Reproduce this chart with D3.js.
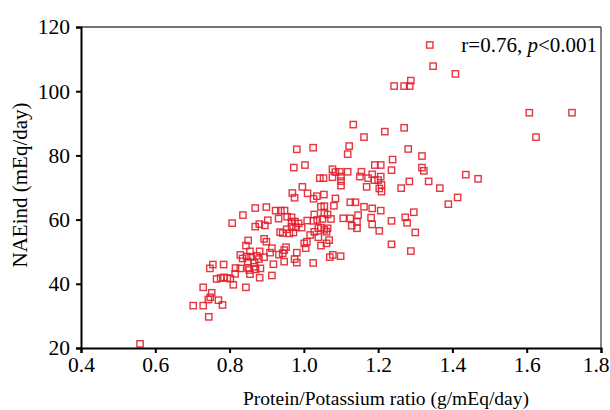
<!DOCTYPE html>
<html>
<head>
<meta charset="utf-8">
<script src="https://cdn.jsdelivr.net/npm/d3@7"></script>
<style>
  html, body { margin: 0; padding: 0; background: #fff; }
  svg { display: block; }
  text { font-family: "Liberation Serif", "Times New Roman", serif; }
</style>
</head>
<body>
<svg id="chart" width="610" height="410"></svg>
<script>
// Protein/Potassium ratio (g/mEq/day)
const ratio = [
  0.559, 0.702, 0.729, 0.744, 0.743, 0.748, 0.752, 0.729, 0.770, 0.781,
  0.747, 0.755, 0.784, 0.765, 0.776, 0.785, 0.794, 0.802, 0.810, 0.807,
  0.816, 0.815, 0.829, 0.844, 0.829, 0.835, 0.836, 0.844, 0.850, 0.855,
  0.846, 0.858, 0.849, 0.850, 0.855, 0.869, 0.869, 0.880, 0.895, 0.903,
  0.899, 0.873, 0.881, 0.867, 0.870, 0.866, 0.881, 0.879, 0.883, 0.853,
  0.893, 0.893, 0.899, 0.914, 0.909, 0.918, 0.914, 0.924, 0.938, 0.948,
  0.932, 0.955, 0.967, 0.967, 0.936, 0.943, 0.954, 0.961, 0.972, 0.952,
  0.947, 0.943, 0.933, 0.947, 0.975, 0.981, 0.981, 0.975, 0.969, 0.981,
  1.025, 0.973, 1.003, 0.996, 1.010, 1.026, 1.035, 1.043, 1.053, 1.054,
  1.085, 1.077, 1.085, 1.097, 1.118, 1.077, 1.100, 1.100, 1.100, 1.122,
  1.118, 1.133, 1.162, 1.218, 1.270, 1.155, 1.151, 1.184, 1.173, 1.191,
  1.207, 1.190, 1.200, 1.207, 1.209, 1.203, 1.209, 1.169, 1.239, 1.236,
  1.262, 1.281, 1.318, 1.318, 1.323, 1.284, 1.336, 1.366, 1.436, 1.469,
  1.414, 1.389, 1.296, 1.273, 1.278, 1.300, 1.288, 1.236, 1.236, 1.184,
  1.203, 1.181, 1.207, 1.184, 1.162, 1.125, 1.139, 1.106, 1.125, 1.146,
  1.143, 1.129, 1.143, 1.046, 1.055, 1.081, 1.055, 1.028, 1.064, 1.073,
  1.050, 1.026, 1.009, 1.036, 0.986, 0.994, 1.039, 1.046, 1.055, 1.064,
  1.061, 1.028, 1.017, 1.039, 1.068, 1.061, 1.046, 1.008, 1.001, 1.005,
  1.025, 1.070, 1.078, 1.099, 1.348, 1.408, 1.339, 1.288, 1.270, 1.285,
  1.243, 1.607, 1.722, 1.625, 0.967, 0.976, 0.979
];
// NAEind (mEq/day)
const naeind = [
  21.3, 33.2, 33.2, 29.7, 35.1, 35.8, 37.2, 38.9, 34.9, 33.4,
  44.8, 46.0, 46.0, 41.5, 41.8, 42.0, 41.8, 41.6, 39.7, 58.9,
  44.9, 43.1, 44.8, 38.9, 49.0, 47.9, 61.4, 51.9, 53.5, 50.1,
  48.5, 48.4, 46.9, 44.9, 43.0, 63.6, 57.8, 58.6, 58.2, 59.8,
  63.9, 48.7, 50.1, 46.6, 44.5, 45.3, 41.9, 47.7, 44.8, 44.3,
  48.3, 54.0, 53.1, 51.1, 49.7, 46.1, 42.6, 62.8, 62.8, 62.8,
  60.3, 60.9, 59.3, 57.8, 56.1, 55.8, 57.0, 55.7, 56.0, 51.4,
  50.5, 49.5, 49.1, 46.9, 47.7, 46.6, 49.7, 66.8, 68.3, 81.9,
  82.4, 76.2, 77.0, 70.2, 68.2, 66.5, 67.3, 72.9, 72.9, 67.8,
  66.6, 75.7, 74.8, 74.9, 74.9, 73.2, 73.4, 72.0, 70.6, 82.9,
  80.4, 89.6, 85.7, 87.4, 88.6, 74.9, 73.4, 74.1, 72.9, 77.0,
  77.0, 72.3, 72.3, 73.4, 70.8, 69.7, 68.7, 70.2, 78.7, 75.4,
  69.8, 82.0, 79.8, 76.2, 75.2, 71.9, 71.9, 69.8, 74.0, 72.7,
  66.9, 64.8, 62.3, 60.7, 59.0, 56.0, 50.2, 52.3, 59.6, 58.5,
  56.5, 60.6, 62.8, 63.5, 64.0, 65.4, 65.4, 60.4, 60.4, 61.4,
  59.3, 58.1, 57.3, 64.0, 64.2, 64.3, 62.0, 61.6, 61.6, 60.2,
  60.2, 59.6, 59.7, 59.9, 58.8, 57.5, 57.3, 57.5, 56.8, 57.3,
  56.2, 56.2, 55.2, 54.5, 53.6, 52.6, 51.9, 53.1, 52.6, 51.1,
  46.5, 48.3, 49.0, 48.6, 107.8, 105.4, 114.4, 103.3, 101.6, 101.6,
  101.6, 93.3, 93.3, 85.7, 60.7, 59.4, 57.6
];
const xTicks = [0.4, 0.6, 0.8, 1.0, 1.2, 1.4, 1.6, 1.8];
const yTicks = [20, 40, 60, 80, 100, 120];
const xTitle = "Protein/Potassium ratio (g/mEq/day)";
const yTitle = "NAEind (mEq/day)";

const svg = d3.select("#chart");
const pL = 81, pR = 601, pT = 27, pB = 348;

const x = d3.scaleLinear().domain([0.4, 1.8]).range([pL, pR]);
const y = d3.scaleLinear().domain([20, 120]).range([pB, pT]);

// frame top & right
svg.append("line").attr("x1", pL).attr("x2", pR).attr("y1", pT).attr("y2", pT)
  .attr("stroke", "#444").attr("stroke-width", 1.3);
svg.append("line").attr("x1", pR).attr("x2", pR).attr("y1", pT).attr("y2", pB)
  .attr("stroke", "#444").attr("stroke-width", 1.3);

// points
const pts = ratio.map((r, i) => ({r, v: naeind[i]}));
const s = 6.3;
svg.append("g").selectAll("rect").data(pts).join("rect")
  .attr("x", d => x(d.r) - s / 2)
  .attr("y", d => y(d.v) - s / 2)
  .attr("width", s).attr("height", s)
  .attr("fill", "none")
  .attr("stroke", "#e2202c")
  .attr("stroke-opacity", 0.9)
  .attr("stroke-width", 1.4);

// axes
const xAxis = svg.append("g").attr("transform", `translate(0,${pB})`)
  .call(d3.axisBottom(x).tickValues(xTicks).tickFormat(d3.format(".1f")).tickSizeOuter(0).tickSize(5).tickPadding(4));
const yAxis = svg.append("g").attr("transform", `translate(${pL},0)`)
  .call(d3.axisLeft(y).tickValues(yTicks).tickFormat(d3.format("d")).tickSizeOuter(0).tickSize(5).tickPadding(6));

[xAxis, yAxis].forEach(g => {
  g.select(".domain").attr("stroke", "#000").attr("stroke-width", 2);
  g.selectAll(".tick line").attr("stroke", "#000").attr("stroke-width", 2);
  g.selectAll(".tick text").attr("fill", "#000")
    .style("font-family", '"Liberation Serif", serif').style("font-size", "21.5px");
});
// keep the last x label inside the picture
xAxis.selectAll(".tick text").filter(d => d === 1.8).attr("text-anchor", "end").attr("dx", 8);

// titles
svg.append("text").attr("x", 386).attr("y", 405)
  .attr("text-anchor", "middle").style("font-size", "19.5px").text(xTitle);
svg.append("text").attr("transform", `translate(27,185) rotate(-90)`)
  .attr("text-anchor", "middle").style("font-size", "21px").text(yTitle);

// annotation
const ann = svg.append("text").attr("x", 597).attr("y", 52).attr("text-anchor", "end")
  .style("font-size", "21px");
ann.append("tspan").text("r=0.76, ");
ann.append("tspan").style("font-style", "italic").text("p");
ann.append("tspan").text("<0.001");
</script>
</body>
</html>
